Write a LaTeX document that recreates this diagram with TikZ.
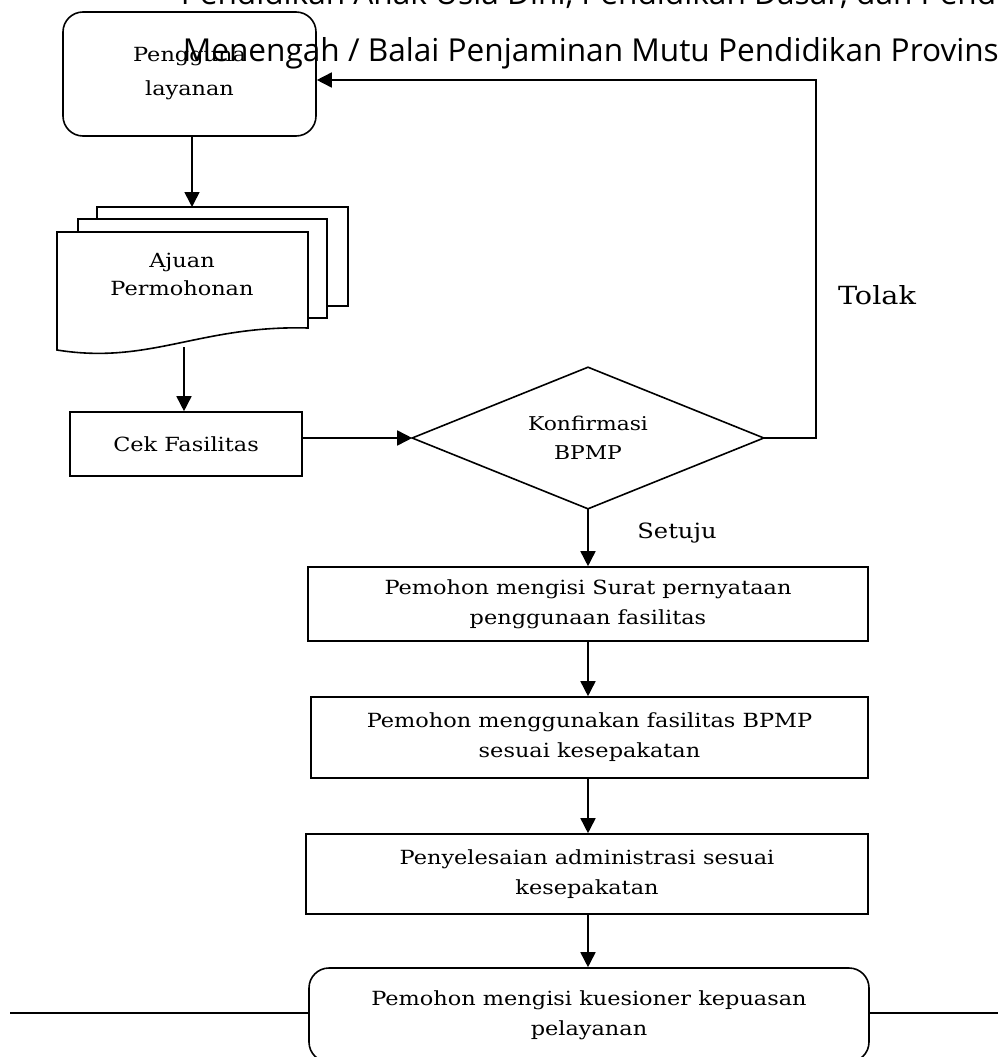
\documentclass[tikz,border=0pt]{standalone}
\usepackage{fontspec}
\setmainfont{DejaVu Serif}
\newfontfamily\diag{DejaVu Serif}[FakeStretch=1.15]
\newfontfamily\overlayfont{Open Sans}
\usetikzlibrary{arrows.meta,shapes.geometric}
\begin{document}
\begin{tikzpicture}[x=1pt,y=-1pt,
  line width=1.6pt,
  arr/.style={-{Triangle[length=15pt,width=15pt]}},
  boxstyle/.style={draw, rectangle, align=center, inner sep=0pt, font=\diag\fontsize{19.5}{30}\selectfont},
  roundbox/.style={draw, rectangle, rounded corners=20pt, align=center, inner sep=0pt, font=\diag\fontsize{19.5}{30}\selectfont},
  decision/.style={rectangle, align=center, inner sep=0pt, font=\diag\fontsize{19}{29}\selectfont},
  ovl/.style={anchor=base west, inner sep=0pt, font=\overlayfont\fontsize{31.6}{34}\selectfont}]
\useasboundingbox (0,0) rectangle (998,1057);
\clip (0,0) rectangle (998,1057);
\fill[white] (0,0) rectangle (998,1057);

% start node
\node[roundbox, minimum width=253pt, minimum height=124pt, font=\diag\fontsize{19.5}{34}\selectfont] (peng) at (189.5,74) {Pengguna\\layanan};

% multi-document
\draw[fill=white] (97,219) -- (97,207) -- (348,207) -- (348,306) -- (327,306);
\draw[fill=white] (78,232) -- (78,219) -- (327,219) -- (327,318) -- (308,318);
\draw[fill=white] (57,232) -- (308,232) -- (308,328) .. controls (200,325) and (150,365) .. (57,350) -- cycle;
\node[font=\diag\fontsize{19.5}{28}\selectfont, align=center] (doc) at (182,274) {Ajuan\\Permohonan};
\coordinate (docin) at (192,207);
\coordinate (docout) at (184,347);

\node[boxstyle, minimum width=232pt, minimum height=64pt] (cek) at (186,444) {Cek Fasilitas};
\node[decision, minimum width=350pt, minimum height=140pt] (kon) at (588,438) {Konfirmasi\\BPMP};
\draw (kon.west) -- (kon.north) -- (kon.east) -- (kon.south) -- cycle;

\node[boxstyle, minimum width=560pt, minimum height=74pt] (b1) at (588,604) {Pemohon mengisi Surat pernyataan\\penggunaan fasilitas};
\node[boxstyle, minimum width=557pt, minimum height=81pt] (b2) at (589.5,737.5) {Pemohon menggunakan fasilitas BPMP\\sesuai kesepakatan};
\node[boxstyle, minimum width=562pt, minimum height=80pt] (b3) at (587,874) {Penyelesaian administrasi sesuai\\kesepakatan};
\node[roundbox, minimum width=560pt, minimum height=94pt] (fin) at (589,1015) {Pemohon mengisi kuesioner kepuasan\\pelayanan};

% connectors
\draw[arr] (peng.south -| docin) -- (docin);
\draw[arr] (docout) -- (cek.north -| docout);
\draw[arr] (cek.east |- kon.west) -- (kon.west);
\draw[arr] (kon.east) -- ++(52,0) |- ([yshift=-6pt]peng.east);
\draw[arr] (kon.south) -- (b1.north);
\draw[arr] (b1.south) -- (b2.north -| b1.south);
\draw[arr] (b2.south -| b1.south) -- (b3.north -| b1.south);
\draw[arr] (b3.south -| b1.south) -- (fin.north -| b1.south);
\coordinate (lend) at (10,1013);
\coordinate (rend) at (998,1013);
\draw (fin.west |- lend) -- (lend);
\draw (fin.east |- rend) -- (rend);

% labels
\node[font=\diag\fontsize{25}{28}\selectfont] (tolak) at (877,295) {Tolak};
\node[font=\diag\fontsize{21}{26}\selectfont] (setuju) at (677,533) {Setuju};

% overlay text
\node[ovl] (ov1) at (180,5) {Pendidikan Anak Usia Dini, Pendidikan Dasar, dan Pendidikan};
\node[ovl] (ov2) at (182,62) {Menengah / Balai Penjaminan Mutu Pendidikan Provinsi};
\end{tikzpicture}
\end{document}
